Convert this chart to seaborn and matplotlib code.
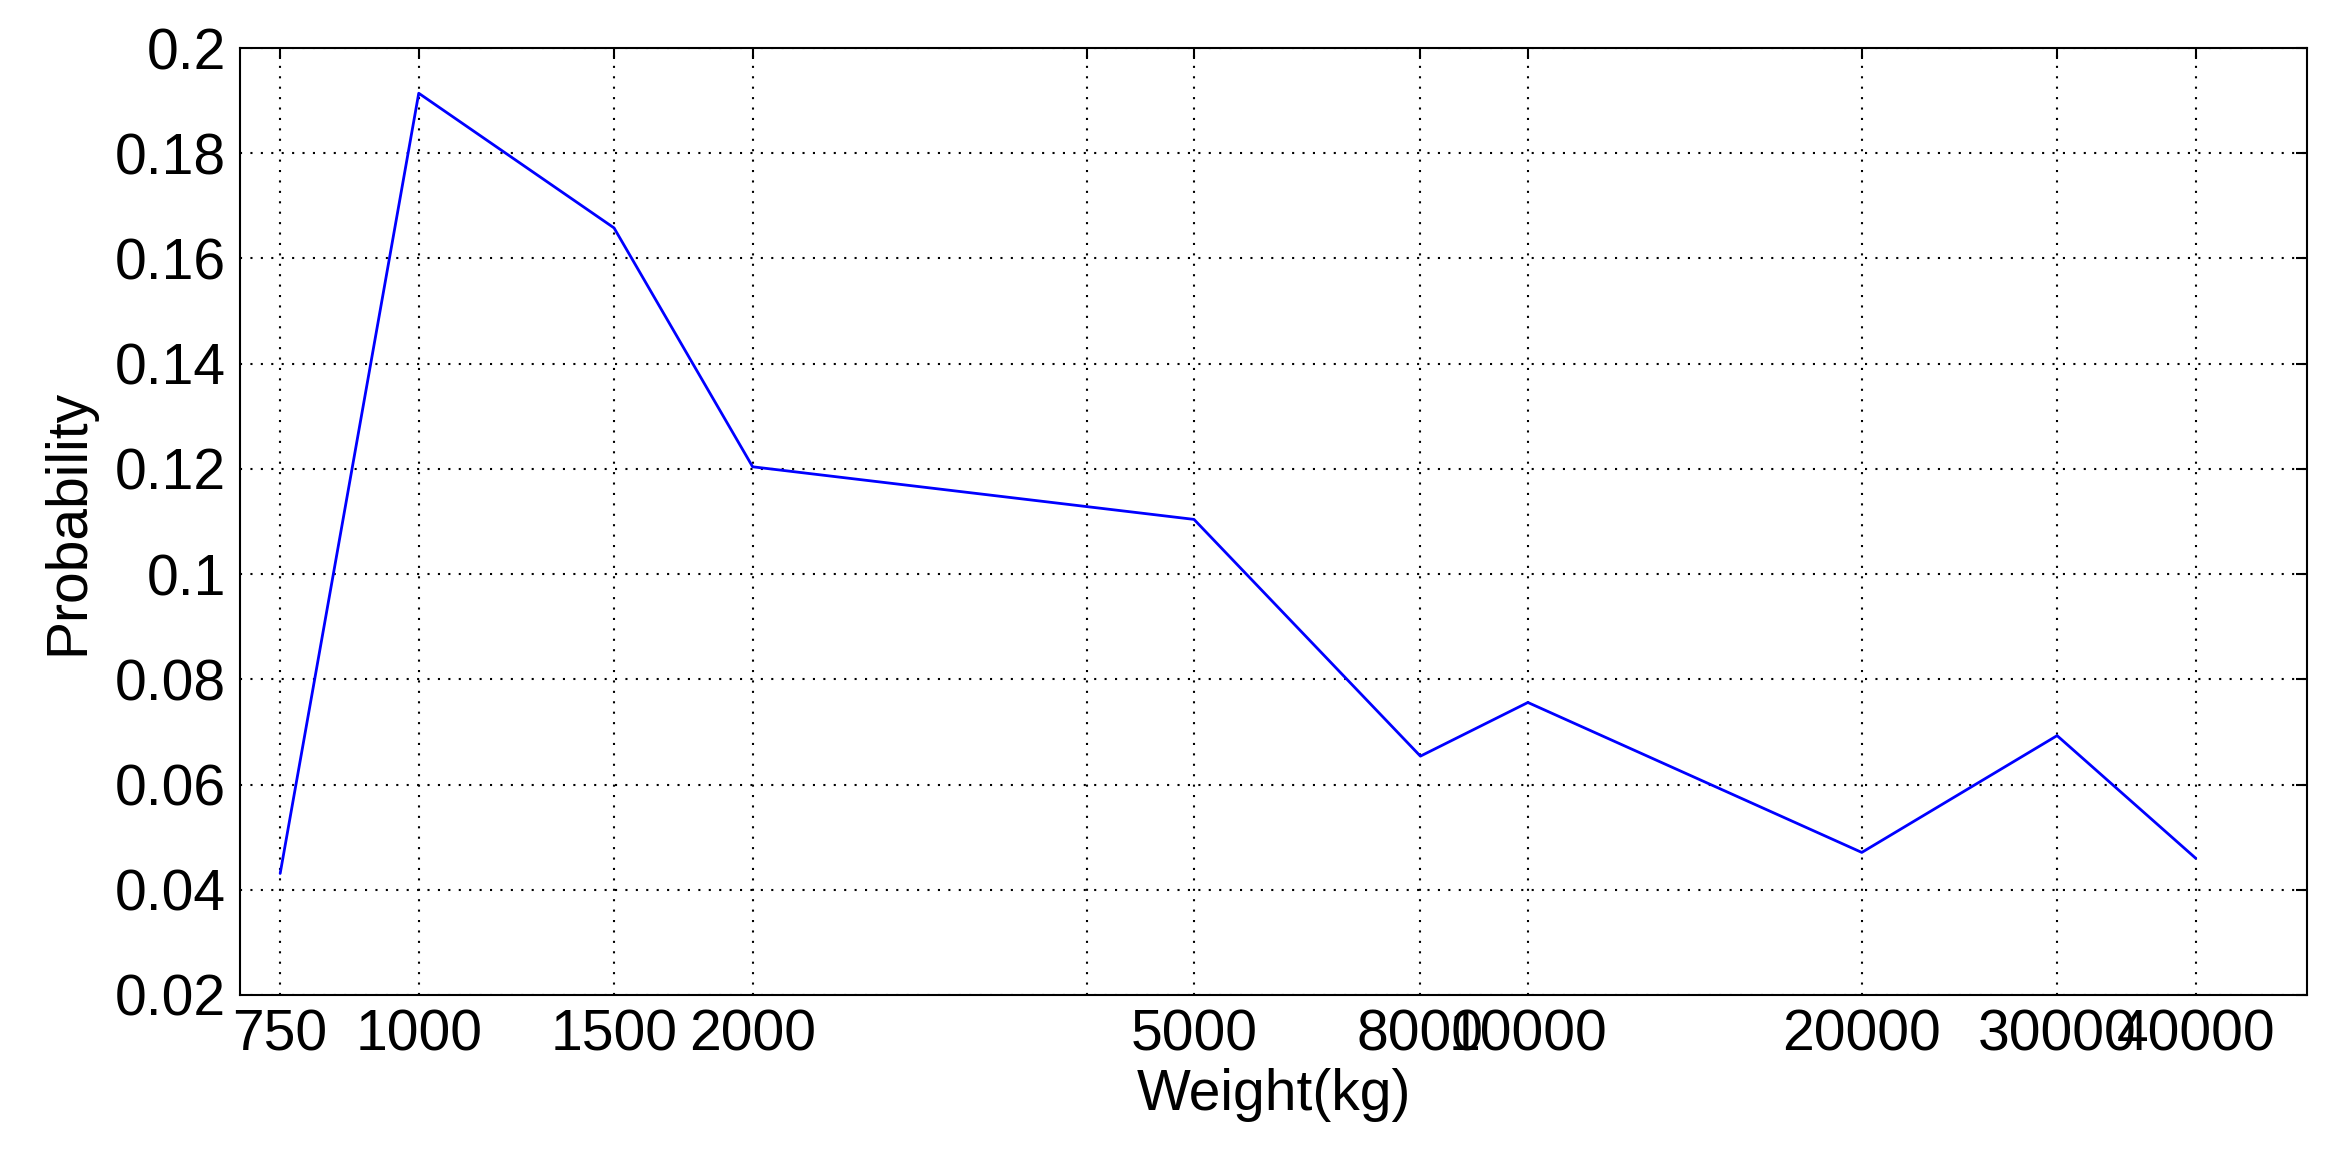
import matplotlib
matplotlib.use("Agg")
import matplotlib.pyplot as plt
import seaborn as sns
import pandas as pd

weights = [750, 1000, 1500, 2000, 5000, 8000, 10000, 20000, 30000, 40000]
probs = [0.0431, 0.1914, 0.1658, 0.1204, 0.1104, 0.0654, 0.0756, 0.0471, 0.0693, 0.0460]
xticks = [750, 1000, 1500, 2000, 4000, 5000, 8000, 10000, 20000, 30000, 40000]
xticklabels = ["750", "1000", "1500", "2000", "", "5000", "8000", "10000", "20000", "30000", "40000"]
yticks = [0.02, 0.04, 0.06, 0.08, 0.1, 0.12, 0.14, 0.16, 0.18, 0.2]
yticklabels = ["0.02", "0.04", "0.06", "0.08", "0.1", "0.12", "0.14", "0.16", "0.18", "0.2"]

sns.set_style("white")
plt.rcParams['font.family'] = ['Liberation Sans', 'DejaVu Sans']
df = pd.DataFrame({"w": weights, "p": probs})
fig = plt.figure(figsize=(23.39, 11.75), dpi=100)
ax = fig.add_axes([240/2339, 1-995/1175, (2307-240)/2339, (995-48)/1175])
sns.lineplot(data=df, x="w", y="p", ax=ax, color="#0000ff", linewidth=2)
ax.set_xscale("log")
ax.set_xlim(690, 50400)
ax.set_ylim(0.02, 0.2)
ax.set_xticks(xticks)
ax.set_xticklabels(xticklabels)
ax.minorticks_off()
ax.set_yticks(yticks)
ax.set_yticklabels(yticklabels)
ax.tick_params(labelsize=41, direction="in", length=8, width=1.5, top=True, right=True,
               colors="black", pad=10)
ax.grid(True, linestyle=(0, (1, 4)), color="black", linewidth=1.5)
for s in ax.spines.values():
    s.set_color("black"); s.set_linewidth(1.5)
ax.set_xlabel("Weight(kg)", fontsize=41, color="black", labelpad=4)
ax.set_ylabel("Probability", fontsize=41, color="black", labelpad=14)
fig.savefig("out.png", dpi=100, facecolor="white")
